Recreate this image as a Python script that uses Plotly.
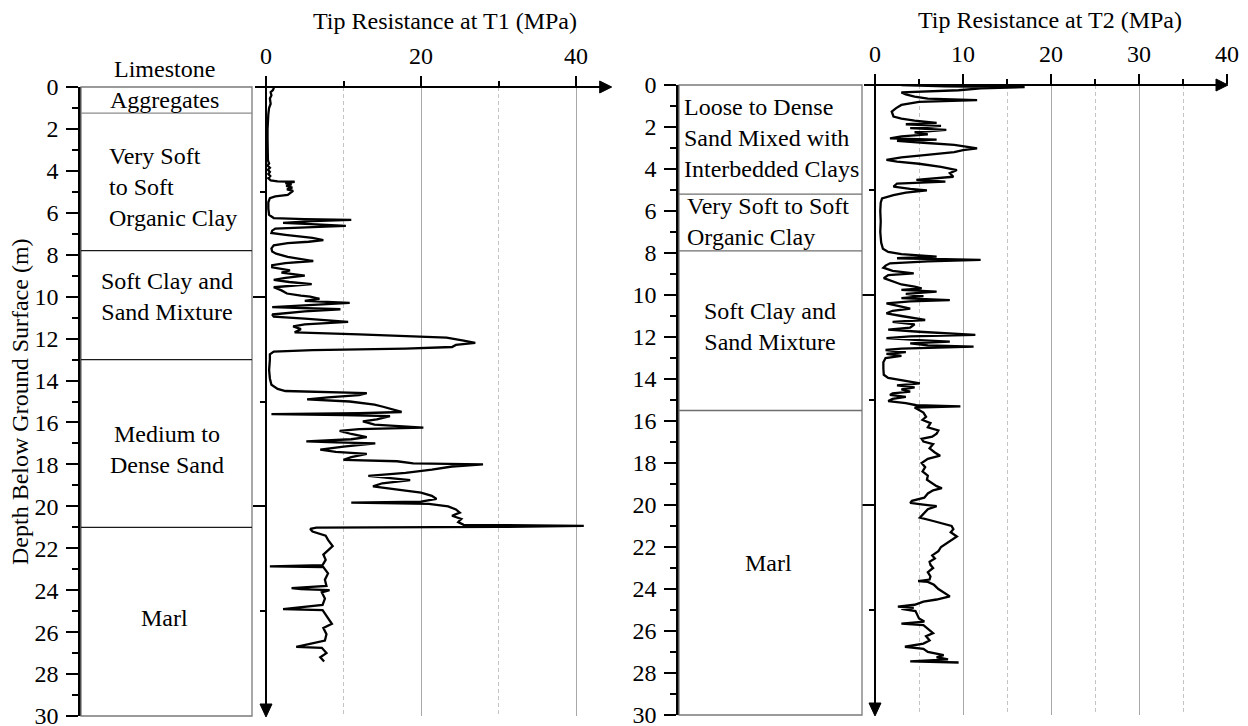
import plotly.graph_objects as go

W, H = 1248, 726
FONT = "Liberation Serif, Times New Roman, serif"
FS = 24

# ---------------------------------------------------------------- data
# CPT sounding T1: depth (m) and cone tip resistance qc (MPa)
t1_depth = [0.00, 0.05, 0.15, 0.25, 0.40, 0.55, 0.80, 1.00, 1.30, 1.60, 2.00, 2.50,
            3.00, 3.50, 3.65, 3.75, 3.85, 3.95, 4.05, 4.15, 4.25, 4.35, 4.45, 4.50,
            4.52, 4.58, 4.65, 4.72, 4.80, 4.88, 4.95, 5.05, 5.15, 5.22, 5.30, 5.50,
            5.80, 6.10, 6.25, 6.30, 6.34, 6.40, 6.48, 6.55, 6.62, 6.68, 6.75, 6.85,
            6.96, 7.05, 7.10, 7.20, 7.30, 7.38, 7.45, 7.55, 7.70, 7.85, 7.95, 8.10,
            8.30, 8.40, 8.50, 8.60, 8.75, 8.85, 9.00, 9.10, 9.20, 9.30, 9.40, 9.48,
            9.55, 9.70, 9.85, 9.95, 10.00, 10.10, 10.20, 10.30, 10.40, 10.50, 10.60, 10.70,
            10.85, 10.95, 11.05, 11.20, 11.32, 11.42, 11.55, 11.70, 11.80, 11.95, 12.10, 12.20,
            12.30, 12.40, 12.48, 12.55, 12.62, 12.75, 13.00, 13.50, 13.90, 14.20, 14.40, 14.50,
            14.60, 14.70, 14.80, 14.90, 15.00, 15.15, 15.25, 15.40, 15.50, 15.56, 15.60, 15.65,
            15.70, 15.85, 15.95, 16.10, 16.25, 16.32, 16.40, 16.55, 16.70, 16.80, 16.90, 16.95,
            17.00, 17.15, 17.30, 17.40, 17.50, 17.65, 17.78, 17.85, 17.95, 18.00, 18.10, 18.25,
            18.40, 18.55, 18.65, 18.75, 18.90, 19.05, 19.20, 19.35, 19.50, 19.65, 19.78, 19.82,
            19.88, 20.00, 20.15, 20.30, 20.45, 20.60, 20.75, 20.88, 20.93, 20.98, 21.02, 21.08,
            21.20, 21.40, 21.60, 21.90, 22.10, 22.30, 22.55, 22.80, 22.86, 22.90, 23.20, 23.50,
            23.80, 23.90, 23.95, 24.00, 24.10, 24.40, 24.70, 24.90, 24.95, 25.20, 25.60, 25.80,
            26.10, 26.40, 26.70, 26.75, 27.00, 27.20, 27.40]
t1_qc = [0.8, 1.0, 0.9, 0.6, 0.7, 0.5, 0.6, 0.4, 0.3, 0.25, 0.2, 0.2,
         0.2, 0.25, 0.4, 0.2, 0.5, 0.25, 0.5, 0.3, 0.55, 0.3, 0.6, 1.5,
         3.7, 2.5, 3.3, 2.6, 3.4, 2.7, 3.5, 3.2, 2.8, 1.2, 0.5, 0.3,
         0.3, 0.4, 1.0, 5.0, 11.0, 6.0, 2.2, 6.5, 10.3, 6.0, 1.2, 0.8,
         0.7, 2.5, 4.0, 6.0, 7.4, 5.5, 2.8, 1.0, 0.7, 0.8, 1.3, 2.8,
         6.1, 2.5, 0.8, 0.8, 3.1, 2.0, 5.0, 2.5, 1.0, 3.0, 5.9, 3.5,
         1.0, 2.0, 2.7, 4.5, 5.7, 6.9, 5.0, 10.8, 5.0, 0.8, 9.6, 5.0,
         0.8, 1.0, 5.0, 10.6, 5.0, 3.5, 4.5, 3.7, 12.0, 23.3, 25.5, 27.0,
         24.5, 24.0, 18.0, 6.0, 1.0, 0.5, 0.5, 0.4, 0.5, 0.7, 1.5, 2.5,
         13.0, 12.0, 8.0, 5.3, 10.8, 14.0, 15.1, 16.5, 17.5, 12.0, 0.7, 10.0,
         16.0, 14.3, 12.5, 14.0, 20.3, 12.0, 9.5, 11.0, 13.0, 11.0, 5.2, 9.0,
         14.1, 10.0, 7.0, 9.0, 13.0, 11.0, 10.0, 16.9, 19.0, 28.0, 24.0, 21.4,
         18.0, 13.2, 16.0, 18.6, 15.0, 13.8, 17.0, 20.0, 21.4, 22.0, 20.0, 11.0,
         21.0, 23.5, 24.5, 25.0, 24.0, 25.2, 24.8, 25.5, 41.0, 30.0, 6.5, 5.7,
         6.0, 7.7, 8.0, 8.6, 8.0, 7.4, 7.7, 7.3, 0.5, 7.4, 8.0, 7.6,
         7.8, 3.3, 4.5, 8.2, 7.2, 7.6, 7.3, 2.2, 7.3, 7.8, 8.5, 7.4,
         7.8, 7.6, 3.9, 7.2, 7.8, 7.0, 7.5]

# CPT sounding T2: depth (m) and cone tip resistance qc (MPa)
t2_depth = [0.00, 0.06, 0.10, 0.16, 0.25, 0.35, 0.45, 0.55, 0.65, 0.72, 0.80, 0.95,
            1.10, 1.27, 1.50, 1.60, 1.70, 1.80, 1.87, 1.95, 2.05, 2.14, 2.25, 2.35,
            2.45, 2.54, 2.60, 2.66, 2.75, 2.85, 2.95, 3.02, 3.10, 3.20, 3.33, 3.45,
            3.57, 3.65, 3.75, 3.90, 4.05, 4.20, 4.37, 4.45, 4.52, 4.60, 4.70, 4.84,
            4.95, 5.02, 5.12, 5.24, 5.40, 5.60, 6.00, 6.50, 7.00, 7.50, 7.80, 7.95,
            8.05, 8.17, 8.25, 8.33, 8.40, 8.49, 8.60, 8.70, 8.85, 8.97, 9.05, 9.20,
            9.35, 9.50, 9.60, 9.68, 9.76, 9.84, 9.95, 10.05, 10.15, 10.24, 10.30, 10.40,
            10.55, 10.65, 10.75, 10.87, 11.00, 11.10, 11.19, 11.28, 11.40, 11.55, 11.65, 11.75,
            11.90, 11.97, 12.05, 12.15, 12.22, 12.30, 12.40, 12.46, 12.55, 12.62, 12.72, 12.80,
            12.90, 13.00, 13.20, 13.50, 13.80, 13.95, 14.05, 14.12, 14.21, 14.30, 14.40, 14.50,
            14.60, 14.68, 14.76, 14.85, 14.95, 15.05, 15.15, 15.25, 15.30, 15.36, 15.50, 15.60,
            15.80, 15.95, 16.10, 16.30, 16.45, 16.60, 16.75, 16.85, 16.98, 17.10, 17.30, 17.50,
            17.65, 17.80, 18.00, 18.20, 18.40, 18.60, 18.80, 19.00, 19.10, 19.20, 19.30, 19.45,
            19.65, 19.80, 19.90, 19.98, 20.05, 20.20, 20.40, 20.60, 20.75, 20.90, 21.00, 21.15,
            21.30, 21.50, 21.65, 21.80, 22.00, 22.20, 22.40, 22.55, 22.70, 22.85, 23.00, 23.20,
            23.40, 23.55, 23.62, 23.66, 23.80, 24.00, 24.20, 24.35, 24.50, 24.60, 24.75, 24.84,
            24.90, 24.95, 25.05, 25.20, 25.40, 25.55, 25.65, 25.72, 25.90, 26.10, 26.25, 26.45,
            26.60, 26.75, 26.85, 27.00, 27.15, 27.25, 27.35, 27.42, 27.45, 27.50]
t2_qc = [3.0, 8.0, 17.0, 12.0, 9.5, 3.0, 3.5, 4.5, 6.0, 11.6, 5.0, 3.0,
         2.4, 1.9, 2.1, 3.0, 4.5, 7.0, 3.5, 7.5, 4.0, 8.1, 4.5, 6.0,
         3.0, 1.7, 7.0, 2.5, 5.5, 9.0, 10.5, 11.6, 10.0, 9.0, 5.9, 3.0,
         1.3, 2.5, 5.0, 7.5, 9.3, 8.5, 8.9, 7.0, 4.7, 8.0, 2.5, 2.1,
         4.0, 5.9, 3.5, 2.1, 0.8, 0.65, 0.6, 0.65, 0.6, 0.7, 0.9, 1.5,
         3.0, 7.0, 2.5, 12.0, 6.0, 1.7, 1.2, 0.95, 2.0, 4.4, 1.5, 1.0,
         2.0, 3.0, 4.5, 5.3, 3.0, 7.0, 3.5, 5.5, 3.0, 8.5, 4.0, 1.3,
         3.0, 4.0, 2.0, 1.3, 3.0, 4.5, 5.7, 2.0, 4.5, 4.0, 1.5, 5.0,
         11.4, 4.0, 1.3, 5.0, 8.5, 4.0, 6.0, 11.2, 3.0, 1.2, 3.5, 1.3,
         3.0, 1.2, 0.95, 0.95, 1.0, 1.5, 2.8, 4.0, 5.1, 2.5, 4.5, 3.0,
         4.0, 2.0, 1.7, 3.5, 2.0, 1.5, 3.5, 4.7, 9.7, 4.5, 5.0, 5.5,
         5.8, 5.4, 6.3, 6.0, 7.2, 7.0, 6.5, 5.3, 5.5, 6.6, 6.2, 6.8,
         7.4, 6.0, 5.3, 5.7, 5.4, 6.0, 5.9, 6.6, 7.0, 7.6, 6.6, 6.0,
         5.6, 4.2, 4.0, 5.5, 7.0, 6.0, 5.5, 5.1, 6.5, 8.0, 8.7, 8.9,
         8.6, 9.3, 8.8, 8.3, 7.5, 7.2, 6.5, 6.8, 6.2, 6.3, 6.6, 6.0,
         6.3, 6.2, 4.9, 6.0, 6.7, 7.2, 8.0, 8.5, 7.0, 5.5, 4.5, 2.6,
         4.4, 3.0, 4.6, 4.8, 5.0, 5.6, 3.0, 5.5, 6.0, 6.6, 5.8, 6.2,
         5.5, 3.4, 5.5, 6.0, 7.8, 7.0, 8.3, 5.5, 4.0, 9.5]

# soil layers: boundary depths (m) and labels placed at (box fraction, depth)
t1_bounds = [1.25, 7.8, 13.0, 21.0]
t1_bound_colors = ["#8c8c8c", "#1a1a1a", "#1a1a1a", "#1a1a1a"]
t1_labels = ["Limestone<br>Aggregates", "Very Soft<br>to Soft<br>Organic Clay",
             "Soft Clay and<br>Sand Mixture", "Medium to<br>Dense Sand", "Marl"]
t1_label_depth = [-0.14, 4.77, 9.99, 17.31, 25.32]
t1_label_x = [0.49, 0.152, 0.5, 0.5, 0.49]
t1_label_anchor = ["center", "left", "center", "center", "center"]

t2_bounds = [5.2, 7.9, 15.5]
t2_bound_colors = ["#6e6e6e", "#6e6e6e", "#6e6e6e"]
t2_labels = ["Loose to Dense<br>Sand Mixed with<br>Interbedded Clays",
             "Very Soft to Soft<br>Organic Clay", "Soft Clay and<br>Sand Mixture", "Marl"]
t2_label_depth = [2.52, 6.52, 11.48, 22.76]
t2_label_x = [0.015, 0.035, 0.497, 0.49]
t2_label_anchor = ["left", "left", "center", "center"]

DEPTH_MAX = 30
depth_ticks = list(range(0, 31, 2))
depth_minor = list(range(1, 30, 2))
t1_ticks = [0, 20, 40]
t1_minor = [10, 30]
t2_ticks = [0, 10, 20, 30, 40]
t2_minor = [5, 15, 25, 35]
trace_depth_ticks = [10, 20]
trace_depth_minor = [5, 15, 25]

# ---------------------------------------------------------------- layout geometry (px)
PANELS = [
    dict(ax_x=81, box_r=252, tr_l=266, tr_r=611.7, top=87, bot=716, xmax=44.6),
    dict(ax_x=679, box_r=862, tr_l=875, tr_r=1228, top=85, bot=715, xmax=40.1),
]


def px(x):
    return x / W


def py(y):
    return 1 - y / H


fig = go.Figure()

fig.add_trace(go.Scatter(x=t1_qc, y=t1_depth, mode="lines", xaxis="x2", yaxis="y2",
                         line=dict(color="black", width=2.3), hoverinfo="skip"))
fig.add_trace(go.Scatter(x=t2_qc, y=t2_depth, mode="lines", xaxis="x4", yaxis="y4",
                         line=dict(color="black", width=2.3), hoverinfo="skip"))

tickfont = dict(family=FONT, size=FS, color="black")
layout = dict(width=W, height=H, margin=dict(l=0, r=0, t=0, b=0, pad=0, autoexpand=False),
              plot_bgcolor="white", paper_bgcolor="white", showlegend=False,
              font=dict(family=FONT, size=FS, color="black"))

tr_ticks = [(t1_ticks, t1_minor), (t2_ticks, t2_minor)]
for i, p in enumerate(PANELS):
    bx, by = ("x", "y") if i == 0 else ("x3", "y3")
    tx, ty = ("x2", "y2") if i == 0 else ("x4", "y4")
    bkey_x, bkey_y = ("xaxis", "yaxis") if i == 0 else ("xaxis3", "yaxis3")
    tkey_x, tkey_y = ("xaxis2", "yaxis2") if i == 0 else ("xaxis4", "yaxis4")
    ydom = [py(p["bot"]), py(p["top"])]

    layout[bkey_x] = dict(domain=[px(p["ax_x"]), px(p["box_r"])], range=[0, 1],
                          visible=False, anchor=by, fixedrange=True, automargin=False)
    layout[bkey_y] = dict(domain=ydom, range=[DEPTH_MAX, 0], anchor=bx, showline=True,
                          linewidth=2.5, linecolor="black", ticks="outside", ticklen=12,
                          tickwidth=2, tickcolor="black", tickmode="array",
                          tickvals=depth_ticks, tickfont=tickfont, ticklabelstandoff=3,
                          ticklabeloverflow="allow", automargin=False,
                          showgrid=False, zeroline=False,
                          minor=dict(tickmode="array", tickvals=depth_minor, ticks="outside",
                                     ticklen=6, tickwidth=2, tickcolor="black", showgrid=False))
    ticks, minor = tr_ticks[i]
    layout[tkey_x] = dict(domain=[px(p["tr_l"]), px(p["tr_r"])], range=[0, p["xmax"]],
                          side="top", anchor=ty, showline=False, ticks="outside", ticklen=10,
                          tickwidth=2, tickcolor="black", tickmode="array", tickvals=ticks,
                          tickfont=tickfont, ticklabelstandoff=2, ticklabeloverflow="allow",
                          automargin=False, showgrid=True,
                          gridcolor="#a8a8a8", gridwidth=1, zeroline=False,
                          minor=dict(tickmode="array", tickvals=minor, ticks="outside",
                                     ticklen=5, tickwidth=2, tickcolor="black", showgrid=True,
                                     gridcolor="#c4c4c4", gridwidth=1, griddash="4px,3px"))
    layout[tkey_y] = dict(domain=ydom, range=[DEPTH_MAX, 0], anchor=tx, showline=False,
                          ticks="outside", ticklen=12, tickwidth=2, tickcolor="black",
                          tickmode="array", tickvals=trace_depth_ticks, showticklabels=False,
                          automargin=False, showgrid=False, zeroline=False,
                          minor=dict(tickmode="array", tickvals=trace_depth_minor,
                                     ticks="outside", ticklen=5, tickwidth=2,
                                     tickcolor="black", showgrid=False))

fig.update_layout(**layout)

shapes = []
annotations = []

# stratigraphic column boxes and layer boundaries
for i, (bounds, colors) in enumerate([(t1_bounds, t1_bound_colors), (t2_bounds, t2_bound_colors)]):
    bx, by = ("x", "y") if i == 0 else ("x3", "y3")
    shapes.append(dict(type="rect", xref=bx + " domain", yref=by + " domain", x0=0, x1=1,
                       y0=0, y1=1, line=dict(color="#7a7a7a", width=1.3)))
    for b, c in zip(bounds, colors):
        shapes.append(dict(type="line", xref=bx, yref=by, x0=0, x1=1, y0=b, y1=b,
                           line=dict(color=c, width=1.3)))

# arrowed axes of the resistance plots
AH = 12   # arrowhead length (px)
AW = 6    # arrowhead half width (px)
for p in PANELS:
    x0, top, bot, right = p["tr_l"], p["top"], p["bot"], p["tr_r"]
    # horizontal axis
    shapes.append(dict(type="line", xref="paper", yref="paper", x0=px(x0 - 11), x1=px(right - AH + 1),
                       y0=py(top), y1=py(top), line=dict(color="black", width=2), layer="above"))
    shapes.append(dict(type="path", xref="paper", yref="paper",
                       path=f"M {px(right - AH)},{py(top - AW)} L {px(right)},{py(top)} "
                            f"L {px(right - AH)},{py(top + AW)} Z",
                       fillcolor="black", line=dict(color="black", width=1), layer="above"))
    # vertical axis
    shapes.append(dict(type="line", xref="paper", yref="paper", x0=px(x0), x1=px(x0),
                       y0=py(top - 10), y1=py(bot - AH + 1), line=dict(color="black", width=2),
                       layer="above"))
    shapes.append(dict(type="path", xref="paper", yref="paper",
                       path=f"M {px(x0 - AW)},{py(bot - AH)} L {px(x0)},{py(bot + 1)} "
                            f"L {px(x0 + AW)},{py(bot - AH)} Z",
                       fillcolor="black", line=dict(color="black", width=1), layer="above"))

# layer descriptions (depth converted to a fraction of the column height)
for i, (labels, depths, xs, anchors) in enumerate([
        (t1_labels, t1_label_depth, t1_label_x, t1_label_anchor),
        (t2_labels, t2_label_depth, t2_label_x, t2_label_anchor)]):
    bx, by = ("x", "y") if i == 0 else ("x3", "y3")
    for txt, d, xf, anc in zip(labels, depths, xs, anchors):
        annotations.append(dict(text=txt, xref=bx + " domain", yref=by + " domain", x=xf,
                                y=1 - d / DEPTH_MAX, xanchor=anc, yanchor="middle",
                                align="left" if anc == "left" else "center",
                                showarrow=False, font=dict(family=FONT, size=FS, color="black")))

# axis titles
annotations.append(dict(text="Tip Resistance at T1 (MPa)", xref="paper", yref="paper",
                        x=px(445), y=py(21), xanchor="center", yanchor="middle",
                        showarrow=False, font=dict(family=FONT, size=FS, color="black")))
annotations.append(dict(text="Tip Resistance at T2 (MPa)", xref="paper", yref="paper",
                        x=px(1050), y=py(20), xanchor="center", yanchor="middle",
                        showarrow=False, font=dict(family=FONT, size=FS, color="black")))
annotations.append(dict(text="Depth Below Ground Surface (m)", xref="paper", yref="paper",
                        x=px(20), y=py(402), xanchor="center", yanchor="middle", textangle=-90,
                        showarrow=False, font=dict(family=FONT, size=FS, color="black")))

fig.update_layout(shapes=shapes, annotations=annotations)
fig.write_html("out.html")
